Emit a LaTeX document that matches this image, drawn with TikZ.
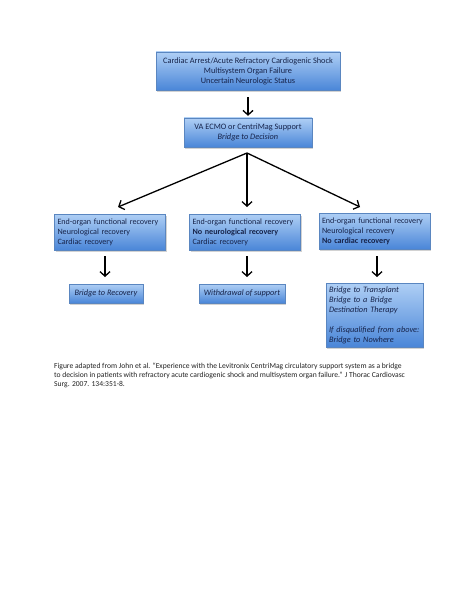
\documentclass[tikz,border=0pt]{standalone}
\usepackage{fontspec}
\setmainfont{Carlito}
\usetikzlibrary{arrows.meta,shadows,shadings}
\definecolor{boxtop}{HTML}{AFCFF5}
\definecolor{boxbot}{HTML}{4A86D8}
\definecolor{boxline}{HTML}{5A86C0}
\definecolor{boxtext}{HTML}{16234A}
\definecolor{captext}{HTML}{222222}
\hyphenpenalty=10000
\exhyphenpenalty=10000
\begin{document}
\begin{tikzpicture}[x=1pt,y=-1pt,
  box/.style={draw=boxline, line width=0.4pt, top color=boxtop, bottom color=boxbot,
    drop shadow={shadow xshift=1.3pt, shadow yshift=-1.6pt, opacity=0.35},
    text=boxtext, font=\fontsize{8.3}{10}\selectfont, inner ysep=0pt},
  cbox/.style={box, align=center, inner xsep=0pt},
  lbox/.style={box, font=\fontsize{8.1}{10}\selectfont, align=left, inner xsep=3pt, text width=105pt, minimum height=36pt},
  arr/.style={line width=1.3pt, -{Straight Barb[length=4.5pt,width=10pt]}}]
\useasboundingbox (0,0) rectangle (463,599);
\fill[white] (0,0) rectangle (463,599);

\node[cbox, minimum width=184pt, minimum height=38pt] (b1) at (248,71)
  {Cardiac Arrest/Acute Refractory Cardiogenic Shock\\Multisystem Organ Failure\\Uncertain Neurologic Status};
\node[cbox, minimum width=128pt, minimum height=29pt] (b2) at (248,132.5)
  {VA ECMO or CentriMag Support\\\textit{Bridge to Decision}};

\node[lbox] (l) at (110,232)
  {End-organ functional recovery\\Neurological recovery\\Cardiac recovery};
\node[lbox] (m) at (245,232)
  {End-organ functional recovery\\\textbf{No neurological recovery}\\Cardiac recovery};
\node[lbox] (r) at (374.5,231)
  {End-organ functional recovery\\Neurological recovery\\\textbf{No cardiac recovery}};

\node[cbox, minimum width=74pt, minimum height=19pt] (bl) at (106,293.5)
  {\textit{Bridge to Recovery}};
\node[cbox, minimum width=86pt, minimum height=19pt] (bm) at (242,293.5)
  {\textit{Withdrawal of support}};
\node[box, align=left, inner xsep=3pt, text width=91pt, minimum height=64pt] (br) at (374.5,315)
  {\textit{Bridge to Transplant}\\\textit{Bridge to a Bridge}\\\textit{Destination Therapy}\\[10pt]\textit{If disqualified from above:}\\\textit{Bridge to Nowhere}};

\node[anchor=north west, align=left, inner sep=0pt, text=captext, font=\fontsize{7.6}{9}\selectfont] (cap) at (54,363)
  {Figure adapted from John et al. “Experience with the Levitronix CentriMag circulatory support system as a bridge\\
   to decision in patients with refractory acute cardiogenic shock and multisystem organ failure.” J Thorac Cardiovasc\\
   Surg. 2007. 134:351-8.};

\coordinate (s) at (247,153);
\coordinate (tl) at (118,207);
\coordinate (tm) at (247,207);
\coordinate (tr) at (360,207);
\coordinate (dl1) at (105,256);
\coordinate (dl2) at (105,277);
\coordinate (dm1) at (247,256);
\coordinate (dm2) at (247,277);
\coordinate (dr1) at (377,256);
\coordinate (dr2) at (377,277);

\draw[arr, shorten <=7pt, shorten >=2pt] (b1.south) -- (b2.north);
\draw[arr] (s) -- (tl);
\draw[arr] (s) -- (tm);
\draw[arr] (s) -- (tr);
\draw[arr] (dl1) -- (dl2);
\draw[arr] (dm1) -- (dm2);
\draw[arr] (dr1) -- (dr2);
\end{tikzpicture}
\end{document}
